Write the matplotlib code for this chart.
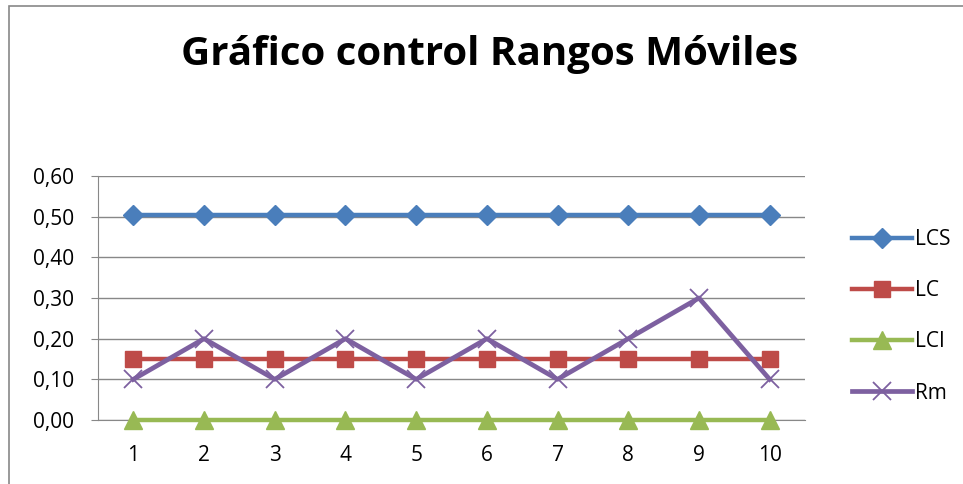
import matplotlib
matplotlib.use("Agg")
from matplotlib import pyplot as plt
from matplotlib.patches import Rectangle

# ---- data ------------------------------------------------------------------
muestras = [1, 2, 3, 4, 5, 6, 7, 8, 9, 10]
lcs = [0.505] * 10
lc = [0.15] * 10
lci = [0.0] * 10
rm = [0.10, 0.20, 0.10, 0.20, 0.10, 0.20, 0.10, 0.20, 0.30, 0.10]
y_ticks = [0.0, 0.1, 0.2, 0.3, 0.4, 0.5, 0.6]

BLUE, RED, GREEN, PURPLE = "#4A7EBB", "#BE4B48", "#98B954", "#7D60A0"
plt.rcParams["font.family"] = ["Open Sans", "DejaVu Sans"]

fig = plt.figure(figsize=(9.63, 4.84), dpi=100)
fig.patches.append(Rectangle((9 / 963, -0.05), 1.0, 1.05 - 6 / 484,
                             transform=fig.transFigure, fill=False,
                             ec="#888888", lw=1.2))
ax = fig.add_axes([98 / 963, 64 / 484, 707 / 963, 244 / 484])

ax.plot(muestras, lcs, color=BLUE, lw=3.2, marker="D", ms=10, label="LCS", zorder=3)
ax.plot(muestras, lc, color=RED, lw=3.2, marker="s", ms=11, label="LC", zorder=3)
ax.plot(muestras, lci, color=GREEN, lw=3.2, marker="^", ms=13, label="LCI",
        zorder=3, clip_on=False)
ax.plot(muestras, rm, color=PURPLE, lw=3.4, marker="x", ms=13, mew=1.3,
        label="Rm", zorder=4)

ax.set_xlim(0.5, 10.5)
ax.set_ylim(0, 0.6)
ax.set_xticks(muestras)
ax.set_yticks(y_ticks)
ax.set_yticklabels([f"{v:.2f}".replace(".", ",") for v in y_ticks])
ax.tick_params(axis="both", labelsize=15, colors="#888888", labelcolor="black",
               length=5)
ax.tick_params(axis="y", pad=12)
ax.tick_params(axis="x", length=0, pad=18)
ax.grid(axis="y", color="#888888", lw=1)
ax.set_axisbelow(True)
for s in ("top", "right"):
    ax.spines[s].set_visible(False)
for s in ("left", "bottom"):
    ax.spines[s].set_color("#888888")

fig.text(490 / 963, 1 - 55 / 484, "Gráfico control Rangos Móviles",
         ha="center", va="center", fontsize=29, fontweight="bold")

ax.legend(loc="center left", bbox_to_anchor=(1.04, 0.425), frameon=False,
          fontsize=15, handlelength=2.9, handletextpad=0.1, labelspacing=1.45)

fig.savefig("out.png", dpi=100)
